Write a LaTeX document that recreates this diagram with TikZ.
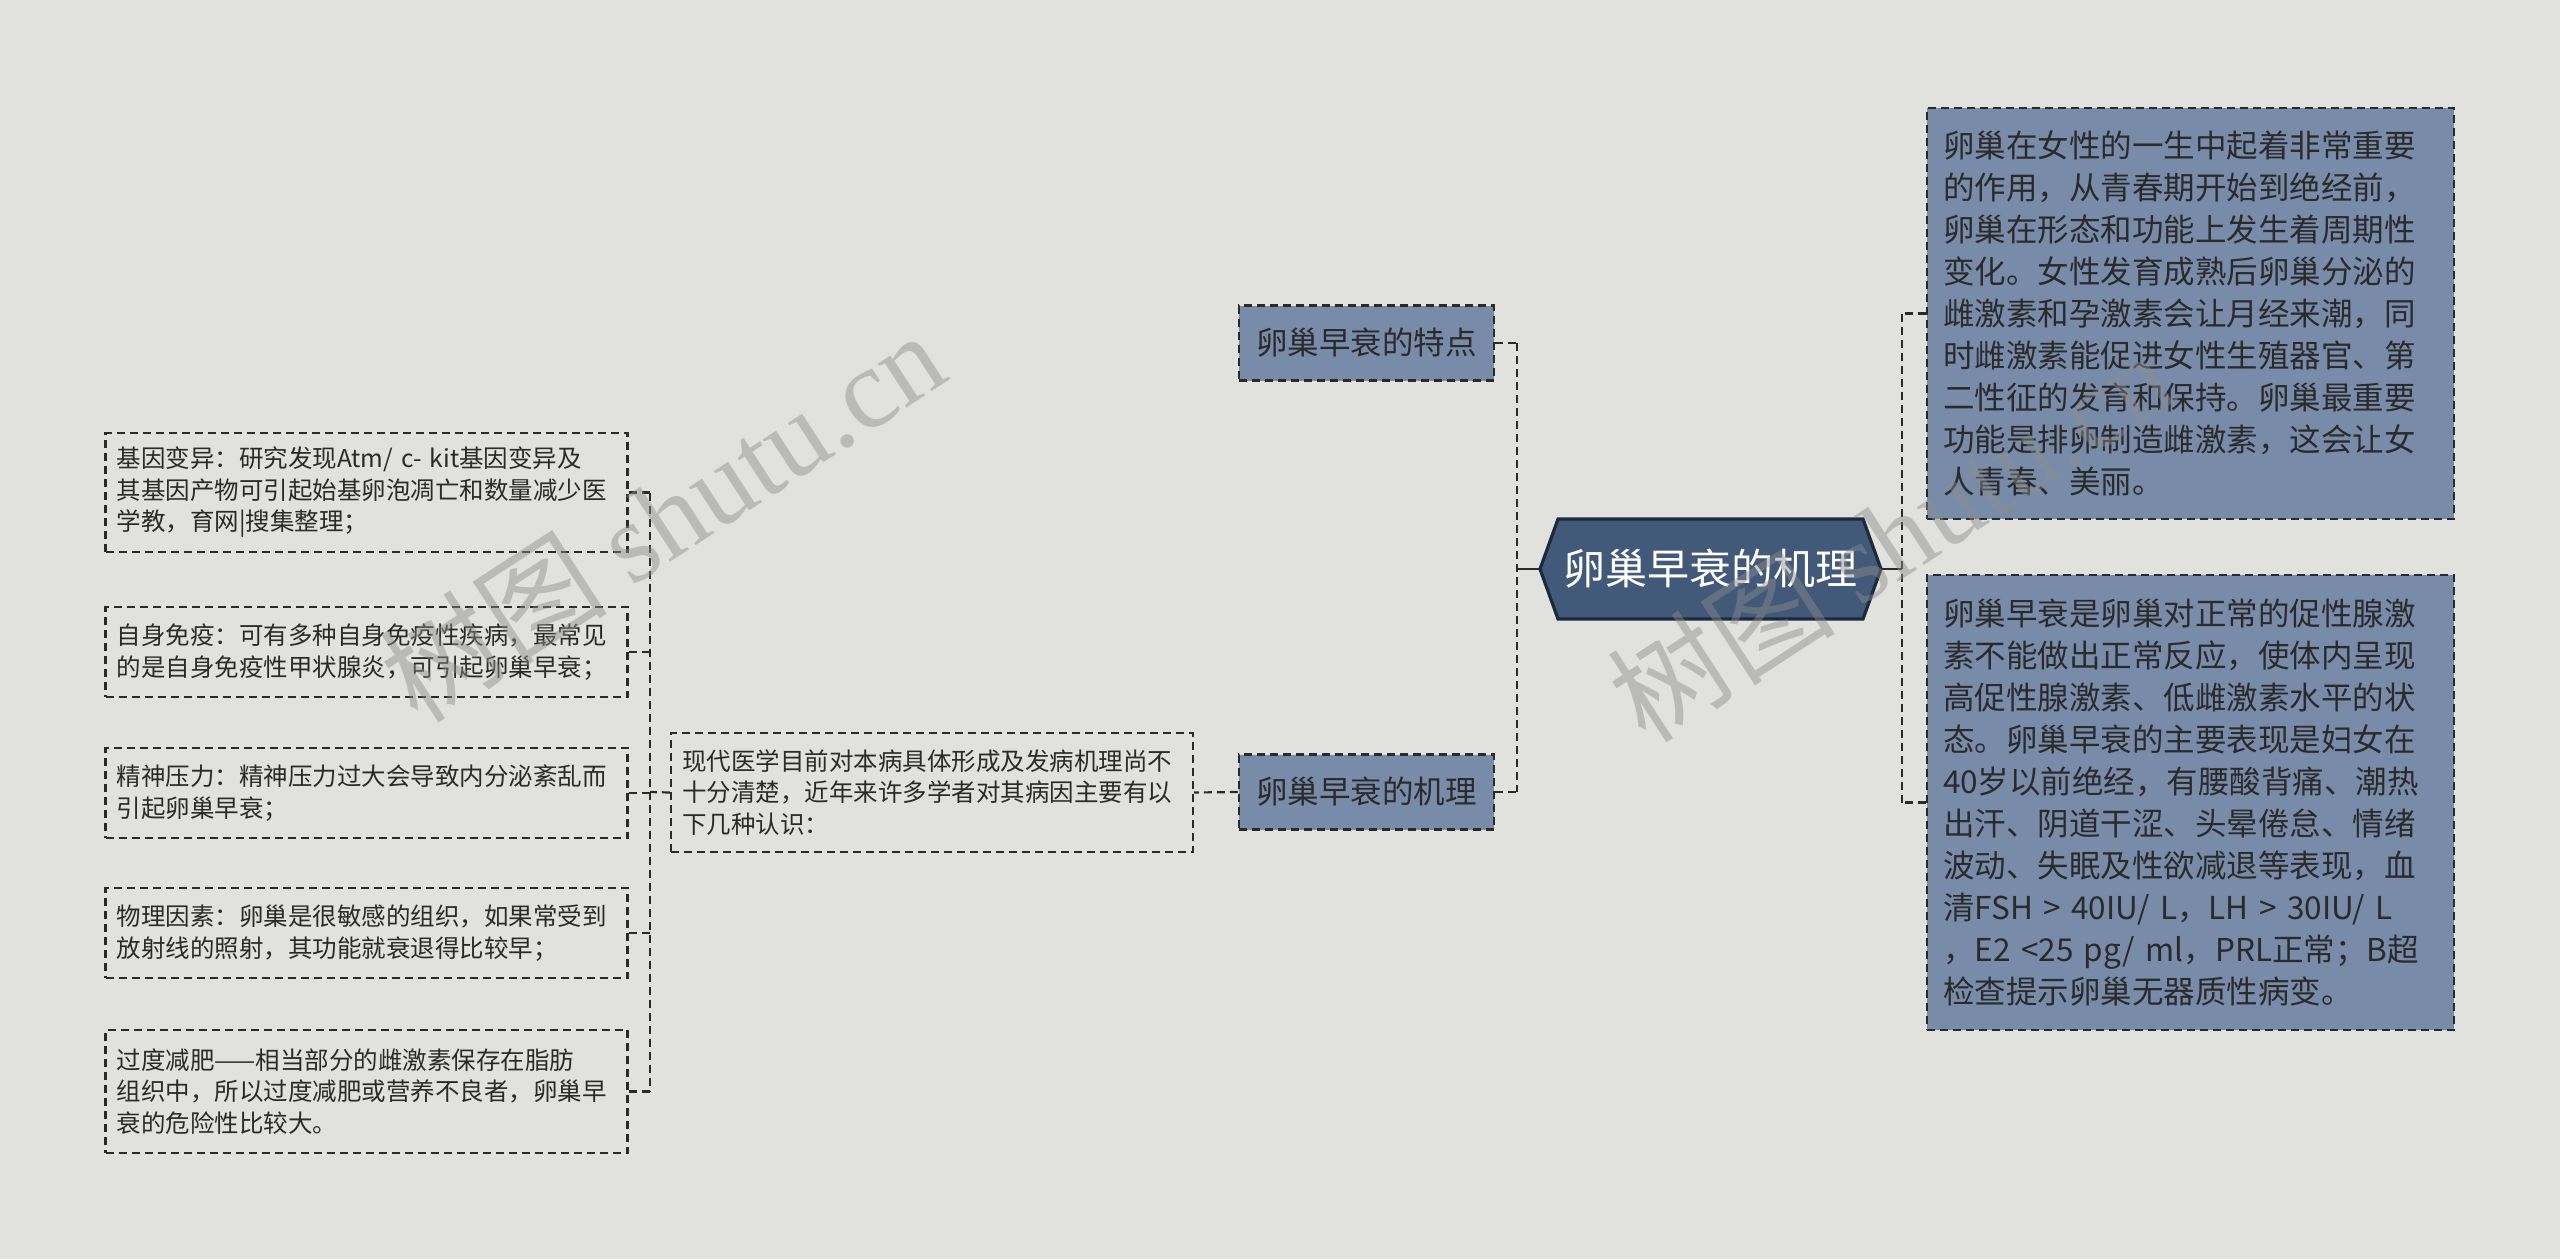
\documentclass[tikz,border=0pt]{standalone}
\usepackage{fontspec}
\setmainfont{Noto Sans CJK SC}
\newfontfamily\wmserif{Liberation Serif}
\definecolor{bg}{HTML}{E1E2DD}
\definecolor{nodefill}{HTML}{788CAA}
\definecolor{rootfill}{HTML}{43597A}
\definecolor{rootline}{HTML}{1B2A3C}
\definecolor{ink}{HTML}{2A2A2A}
\definecolor{wm}{HTML}{8C8C8C}
\tikzset{
 dashline/.style={draw=ink, line width=2.2pt, dash pattern=on 8pt off 5pt},
 conn/.style={dashline},
 stub/.style={draw=ink, line width=2.6pt},
 leafbox/.style={dashline, text=ink, font=\fontsize{24.5}{31.5}\selectfont, text width=500pt, inner xsep=11pt, inner ysep=6pt, align=left},
 bigbox/.style={dashline, fill=nodefill, text=ink, font=\fontsize{31.5}{42}\selectfont, text width=495pt, inner xsep=16pt, inner ysep=6pt, align=left},
 midnode/.style={dashline, fill=nodefill, text=ink, font=\fontsize{31.5}{40}\selectfont, minimum width=255pt, minimum height=75pt, inner sep=0pt},
 roottext/.style={text=white, font=\fontsize{42}{50}\selectfont, minimum width=341pt, minimum height=100pt, inner sep=0pt},
 hexshape/.style={fill=rootfill, draw=rootline, line width=3.2pt},
 wmtext/.style={text=wm, opacity=0.45, rotate=33, font=\fontsize{114}{114}\selectfont, inner sep=0pt}
}
\begin{document}
\begin{tikzpicture}[x=1pt,y=-1pt]
\fill[bg] (0,0) rectangle (2560,1259);
\useasboundingbox (0,0) rectangle (2560,1259);

% root
\filldraw[hexshape] (1540,569) -- (1558,519) -- (1863,519) -- (1881,569) -- (1863,619) -- (1558,619) -- cycle;
\node[roottext] (root) at (1710.5,569) {卵巢早衰的机理};

% level 1
\node[midnode] (feat) at (1366.5,343) {卵巢早衰的特点};
\node[midnode] (mech) at (1366.5,792) {卵巢早衰的机理};

% right boxes
\node[bigbox, minimum height=411pt] (r1) at (2190.5,313.5) {卵巢在女性的一生中起着非常重要\\的作用，从青春期开始到绝经前，\\卵巢在形态和功能上发生着周期性\\变化。女性发育成熟后卵巢分泌的\\雌激素和孕激素会让月经来潮，同\\时雌激素能促进女性生殖器官、第\\二性征的发育和保持。卵巢最重要\\功能是排卵制造雌激素，这会让女\\人青春、美丽。};
\node[bigbox, minimum height=455pt] (r2) at (2190.5,802.5) {卵巢早衰是卵巢对正常的促性腺激\\素不能做出正常反应，使体内呈现\\高促性腺激素、低雌激素水平的状\\态。卵巢早衰的主要表现是妇女在\\40岁以前绝经，有腰酸背痛、潮热\\出汗、阴道干涩、头晕倦怠、情绪\\波动、失眠及性欲减退等表现，血\\清FSH > 40IU/ L，LH > 30IU/ L\\，E2 <25 pg/ ml，PRL正常；B超\\检查提示卵巢无器质性病变。};

% middle box
\node[leafbox, minimum height=119pt] (m) at (932,792.5) {现代医学目前对本病具体形成及发病机理尚不\\十分清楚，近年来许多学者对其病因主要有以\\下几种认识：};

% left boxes
\node[leafbox, minimum height=119pt] (l1) at (366.5,492.5) {基因变异：研究发现Atm/ c- kit基因变异及\\其基因产物可引起始基卵泡凋亡和数量减少医\\学教，育网|搜集整理；};
\node[leafbox, minimum height=90pt] (l2) at (366.5,652) {自身免疫：可有多种自身免疫性疾病，最常见\\的是自身免疫性甲状腺炎，可引起卵巢早衰；};
\node[leafbox, minimum height=90pt] (l3) at (366.5,793) {精神压力：精神压力过大会导致内分泌紊乱而\\引起卵巢早衰；};
\node[leafbox, minimum height=90pt] (l4) at (366.5,933) {物理因素：卵巢是很敏感的组织，如果常受到\\放射线的照射，其功能就衰退得比较早；};
\node[leafbox, minimum height=123pt] (l5) at (366.5,1091.5) {过度减肥——相当部分的雌激素保存在脂肪\\组织中，所以过度减肥或营养不良者，卵巢早\\衰的危险性比较大。};

% connectors
\coordinate (jl) at (1517,569);
\coordinate (jr) at (1902,569);
\coordinate (jm) at (650,792);
\draw[stub] (root.west) -- (jl);
\draw[stub] (root.east) -- (jr);
\draw[conn] (feat.east) -- (feat.east -| jl);
\draw[conn] (mech.east) -- (mech.east -| jl);
\draw[conn] (feat.east -| jl) -- (mech.east -| jl);
\draw[conn] (r1.west) -- (r1.west -| jr);
\draw[conn] (r2.west) -- (r2.west -| jr);
\draw[conn] (r1.west -| jr) -- (r2.west -| jr);
\draw[conn] (mech.west) -- (m.east);
\draw[conn] (m.west) -- (jm);
\foreach \n in {l1,l2,l3,l4,l5} \draw[conn] (\n.east) -- (\n.east -| jm);
\draw[conn] (l1.east -| jm) -- (l5.east -| jm);

% watermarks
\node[wmtext] (wm1) at (662,516) {树图 {\wmserif shutu.cn}};
\node[wmtext] (wm2) at (1890,536) {树图 {\wmserif shutu.cn}};
\end{tikzpicture}
\end{document}
